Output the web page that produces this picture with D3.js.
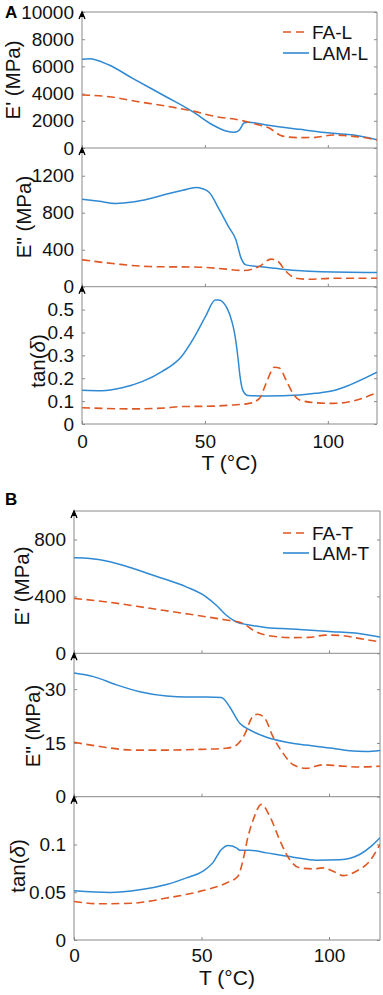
<!DOCTYPE html>
<html><head><meta charset="utf-8">
<script src="https://cdn.jsdelivr.net/npm/d3@7"></script>
<style>body{margin:0;background:#fff}svg{display:block;font-family:"Liberation Sans",Arial,sans-serif}</style>
</head><body><svg id="c" width="383" height="995"></svg>
<script>
// ---------- DATA (T in °C) ----------
const xTicks = [0, 50, 100];
// Panel A  (FA-L / LAM-L)
const A_Ep_LAM_T = [0,3,11,20.6,34.2,45,53.2,58.6,62,64,66,67.5,75,88.5,102,110.5,120];
const A_Ep_LAM_V = [6520,6570,6100,5120,3770,2670,1690,1250,1150,1320,1860,1900,1690,1370,1080,950,610];
const A_Ep_FA_T  = [0,11,23,34,45,54.6,64,72,76.3,80.4,84,88.5,95,102,107.5,114,120];
const A_Ep_FA_V  = [3900,3770,3400,3090,2720,2300,2060,1690,1450,960,800,760,780,960,900,780,600];
const A_Epp_LAM_T = [0,7,13.8,20.6,27.4,34.2,41,46.4,49,51.8,55.8,59.9,62.6,64.7,66.7,72,81.5,95,120];
const A_Epp_LAM_V = [945,923,901,916,952,1000,1043,1072,1060,1018,836,636,509,309,236,218,190,164,153];
const A_Epp_FA_T  = [0,13.8,27.4,47.8,58.6,65.4,72,76.9,79.6,83,87,92.5,102,120];
const A_Epp_FA_V  = [291,247,218,211,190,175,218,298,276,164,91,80,91,91];
const A_tan_LAM_T = [0,8,16.3,24.4,32.5,40.4,45.8,50.2,54.2,55.6,59,61,62,63.4,64.3,65.4,67.4,75,88.5,95,102,108.8,120];
const A_tan_LAM_V = [0.147,0.145,0.158,0.185,0.229,0.294,0.382,0.469,0.542,0.542,0.506,0.447,0.40,0.294,0.207,0.148,0.125,0.122,0.127,0.134,0.145,0.17,0.226];
const A_tan_FA_T  = [0,20.6,34,39.6,53.2,61,68,72.2,74.9,78.3,80.3,83,85.8,88.5,95,102,108.8,120];
const A_tan_FA_V  = [0.071,0.066,0.07,0.076,0.078,0.083,0.09,0.112,0.178,0.248,0.245,0.192,0.134,0.105,0.093,0.09,0.097,0.137];
// Panel B  (FA-T / LAM-T)
const B_Ep_LAM_T = [0,6.3,14.1,23.2,33.6,44,51.8,55.7,59.6,63.5,68.7,75.2,88.3,101.4,109,120];
const B_Ep_LAM_V = [671,667,643,596,533,467,397,339,269,222,199,182,168,152,144,115];
const B_Ep_FA_T  = [0,14.1,29.8,45.5,59.6,66.2,70.1,75.2,85.7,92.2,98.7,103.9,111.7,120];
const B_Ep_FA_V  = [386,358,316,274,234,211,164,128,110,112,128,126,105,80];
const B_Epp_LAM_T = [0,7.6,16.7,25.8,36.3,44.1,52,57.8,61,65,69,75.5,82,91,101.4,108,114.6,120];
const B_Epp_LAM_V = [34.5,33.5,31.2,29.3,28.1,27.8,27.8,27.7,25.1,20.5,18.6,16.6,15.4,14.4,13.5,12.8,12.6,12.9];
const B_Epp_FA_T  = [0,10.2,23.3,36,49.3,59.6,63.5,66.8,70,72,74.7,78,82,86,91,97.6,104,111.6,120];
const B_Epp_FA_V  = [15.2,14.0,13.0,13.0,13.2,13.5,14.3,17.2,22.3,23,22,16.8,12.1,8.9,7.9,8.9,8.6,8.3,8.5];
const B_tan_LAM_T = [0,14.1,25.8,36.3,44.1,50.6,54.5,57.8,60.4,63.7,65,69,75.5,86,95,104.3,112,116.5,120];
const B_tan_LAM_V = [0.0516,0.0498,0.0526,0.058,0.065,0.072,0.081,0.0947,0.099,0.0965,0.094,0.094,0.0912,0.0867,0.0835,0.084,0.0895,0.098,0.107];
const B_tan_FA_T  = [0,10.2,23.2,36.3,49.3,59.8,64.3,66.3,68.3,70.3,73.5,76.7,80.6,84.6,88.5,93.8,97.6,101.6,105.5,110.7,115.9,120];
const B_tan_FA_V  = [0.0403,0.0379,0.0386,0.0439,0.0509,0.0597,0.0667,0.084,0.1088,0.126,0.142,0.13,0.105,0.084,0.0755,0.0744,0.0755,0.0719,0.0674,0.072,0.0825,0.1];

const A_Ep_ticks = [0,2000,4000,6000,8000,10000];
const A_Epp_ticks = [0,400,800,1200];
const A_tan_ticks = [0,0.1,0.2,0.3,0.4,0.5];
const B_Ep_ticks = [0,400,800];
const B_Epp_ticks = [0,15,30];
const B_tan_ticks = [0,0.05,0.1];

const yLabels = ["E' (MPa)", 'E" (MPa)', "tan"];
const legendA = ["FA-L", "LAM-L"];
const legendB = ["FA-T", "LAM-T"];

// ---------- STYLE / LAYOUT ----------
const BLUE = "#3089d3", ORANGE = "#df5722", GRID = "#8a8a8a";
const svg = d3.select("#c");
const zip = (T, V) => T.map((t, i) => [t, V[i]]);

const groups = [
  { letter: "A", lx: 5, ly: 18, xr: [82, 377], xLabY: 448, tLabY: 470, legend: legendA, legY: [32, 53],
    panels: [
      { y: [12, 148], dom: [0, 10000], ticks: A_Ep_ticks, fa: zip(A_Ep_FA_T, A_Ep_FA_V), lam: zip(A_Ep_LAM_T, A_Ep_LAM_V), lab: 0, lcx: 13, lcy: 80, top: true },
      { y: [148, 286.7], dom: [0, 1500], ticks: A_Epp_ticks, fa: zip(A_Epp_FA_T, A_Epp_FA_V), lam: zip(A_Epp_LAM_T, A_Epp_LAM_V), lab: 1, lcx: 24, lcy: 217 },
      { y: [286.7, 424], dom: [0, 0.6], ticks: A_tan_ticks, fa: zip(A_tan_FA_T, A_tan_FA_V), lam: zip(A_tan_LAM_T, A_tan_LAM_V), lab: 2, lcx: 38, lcy: 361, bottom: true }
    ] },
  { letter: "B", lx: 5, ly: 505, xr: [74, 380], xLabY: 961.5, tLabY: 985, legend: legendB, legY: [533, 553],
    panels: [
      { y: [511, 653.3], dom: [0, 1000], ticks: B_Ep_ticks, fa: zip(B_Ep_FA_T, B_Ep_FA_V), lam: zip(B_Ep_LAM_T, B_Ep_LAM_V), lab: 0, lcx: 22, lcy: 586, top: true },
      { y: [653.3, 796.7], dom: [0, 40], ticks: B_Epp_ticks, fa: zip(B_Epp_FA_T, B_Epp_FA_V), lam: zip(B_Epp_LAM_T, B_Epp_LAM_V), lab: 1, lcx: 33, lcy: 726 },
      { y: [796.7, 940], dom: [0, 0.15], ticks: B_tan_ticks, fa: zip(B_tan_FA_T, B_tan_FA_V), lam: zip(B_tan_LAM_T, B_tan_LAM_V), lab: 2, lcx: 18, lcy: 866, bottom: true }
    ] }
];

groups.forEach(g => {
  const x = d3.scaleLinear().domain([0, 120]).range(g.xr);
  const gg = svg.append("g");
  gg.append("text").attr("x", g.lx).attr("y", g.ly).attr("font-size", 17).attr("font-weight", "bold").text(g.letter);

  g.panels.forEach(p => {
    const y = d3.scaleLinear().domain(p.dom).range([p.y[1], p.y[0]]);
    const pg = gg.append("g");
    const cid = "clip" + g.letter + p.lab;
    svg.append("clipPath").attr("id", cid).append("rect")
      .attr("x", g.xr[0]).attr("y", p.y[0] - 2).attr("width", g.xr[1] - g.xr[0]).attr("height", p.y[1] - p.y[0] + 2);

    // frame lines
    const fr = pg.append("g").attr("stroke", GRID).attr("stroke-width", 1).attr("fill", "none");
    fr.append("line").attr("x1", g.xr[1]).attr("x2", g.xr[1]).attr("y1", p.y[0]).attr("y2", p.y[1]);
    fr.append("line").attr("x1", g.xr[0]).attr("x2", g.xr[1]).attr("y1", p.y[1]).attr("y2", p.y[1]);
    if (p.top) fr.append("line").attr("x1", g.xr[0]).attr("x2", g.xr[1]).attr("y1", p.y[0]).attr("y2", p.y[0]);

    // left axis (inward ticks)
    const ay = pg.append("g").attr("transform", `translate(${g.xr[0]},0)`)
      .call(d3.axisLeft(y).tickValues(p.ticks).tickSizeInner(-3).tickSizeOuter(0).tickPadding(8).tickFormat(d3.format("")));
    ay.select(".domain").attr("stroke", GRID).attr("d", `M0,${p.y[1]}V${p.y[0]}`);
    ay.selectAll(".tick line").attr("stroke", GRID);
    ay.selectAll(".tick text").attr("font-size", 19).attr("fill", "#111")
      .attr("font-family", '"Liberation Sans",Arial,sans-serif');
    // right inward ticks
    const ar = pg.append("g").attr("transform", `translate(${g.xr[1]},0)`)
      .call(d3.axisRight(y).tickValues(p.ticks).tickSizeInner(-3).tickSizeOuter(0).tickFormat(""));
    ar.select(".domain").remove();
    ar.selectAll(".tick line").attr("stroke", GRID);
    // bottom inward ticks
    const ab = pg.append("g").attr("transform", `translate(0,${p.y[1]})`)
      .call(d3.axisBottom(x).tickValues(xTicks).tickSizeInner(-3).tickSizeOuter(0).tickPadding(8).tickFormat(p.bottom ? d3.format("") : ""));
    ab.select(".domain").remove();
    ab.selectAll(".tick line").attr("stroke", GRID);
    if (p.bottom) {
      ab.selectAll(".tick text").attr("font-size", 19).attr("fill", "#111")
        .attr("font-family", '"Liberation Sans",Arial,sans-serif')
        .attr("dy", null).attr("y", g.xLabY - p.y[1]);
      pg.append("text").attr("x", (g.xr[0] + g.xr[1]) / 2).attr("y", g.tLabY)
        .attr("text-anchor", "middle").attr("font-size", 21).attr("fill", "#111").text("T (°C)");
    }
    // arrowhead at top of y axis
    pg.append("path").attr("d", `M${g.xr[0] - 3},${p.y[0] + 7}L${g.xr[0]},${p.y[0]}L${g.xr[0] + 3},${p.y[0] + 7}`)
      .attr("fill", "none").attr("stroke", "#000").attr("stroke-width", 1.3);
    pg.append("path").attr("d", `M${g.xr[0] - 2.5},${p.y[0] + 5}L${g.xr[0]},${p.y[0]}L${g.xr[0] + 2.5},${p.y[0] + 5}Z`).attr("fill", "#000");

    // y label
    const yl = pg.append("text").attr("transform", `translate(${p.lcx},${p.lcy}) rotate(-90)`)
      .attr("text-anchor", "middle").attr("dy", "0.35em").attr("font-size", 20.5).attr("fill", "#111");
    if (p.lab === 2) {
      yl.append("tspan").text("tan(");
      yl.append("tspan").attr("font-style", "italic").text("δ");
      yl.append("tspan").text(")");
    } else yl.text(yLabels[p.lab]);

    // lines
    const line = d3.line().x(d => x(d[0])).y(d => y(d[1])).curve(d3.curveMonotoneX);
    const lg = pg.append("g").attr("clip-path", `url(#${cid})`);
    lg.append("path").datum(p.lam).attr("d", line).attr("fill", "none").attr("stroke", BLUE).attr("stroke-width", 1.5);
    lg.append("path").datum(p.fa).attr("d", line).attr("fill", "none").attr("stroke", ORANGE).attr("stroke-width", 1.6).attr("stroke-dasharray", "8,4.5");
  });

  // legend
  const lgd = gg.append("g");
  [ORANGE, BLUE].forEach((c, i) => {
    lgd.append("line").attr("x1", 283).attr("x2", 309).attr("y1", g.legY[i]).attr("y2", g.legY[i])
      .attr("stroke", c).attr("stroke-width", 1.6).attr("stroke-dasharray", i === 0 ? "8,5" : null);
    lgd.append("text").attr("x", 312).attr("y", g.legY[i]).attr("dy", "0.35em").attr("font-size", 19).attr("fill", "#111").text(g.legend[i]);
  });
});
</script></body></html>
